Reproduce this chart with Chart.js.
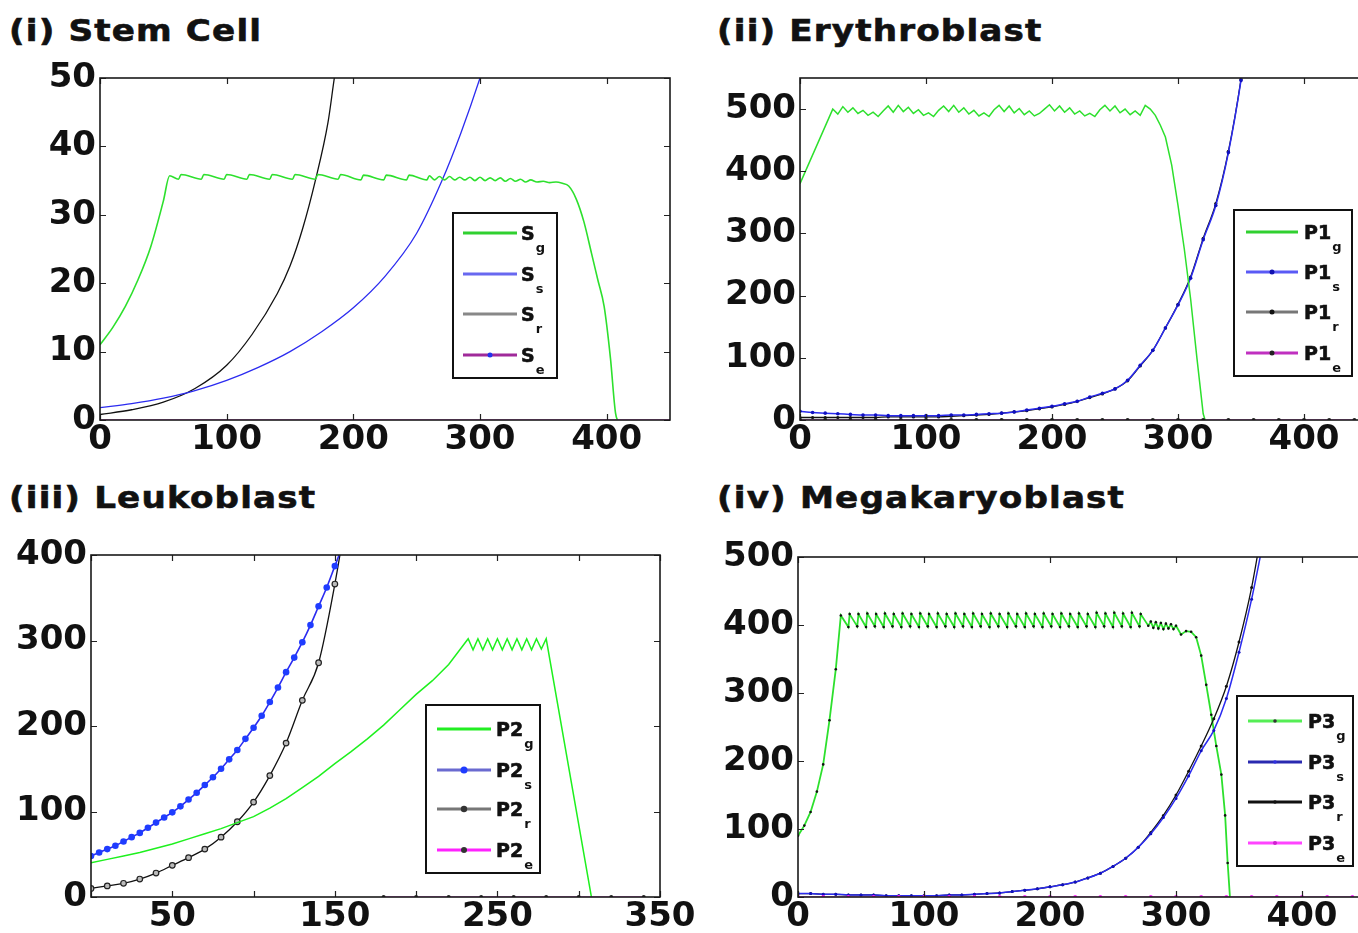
<!DOCTYPE html>
<html><head><meta charset="utf-8">
<script src="https://cdn.jsdelivr.net/npm/chart.js@4.4.0/dist/chart.umd.min.js"></script>
<style>
html,body{margin:0;padding:0;background:#fff;overflow:hidden;width:1358px;height:933px;position:relative;}
.title{position:absolute;font-family:"DejaVu Sans";font-weight:bold;font-size:30px;letter-spacing:1px;color:#111;white-space:nowrap;line-height:1;transform:scaleX(1.14);transform-origin:0 0;-webkit-text-stroke:0.6px #111;}
canvas{position:absolute;}
</style></head><body>
<div class="title" style="left:9px;top:16px">(i) Stem Cell</div>
<div class="title" style="left:717px;top:16px">(ii) Erythroblast</div>
<div class="title" style="left:9px;top:483px">(iii) Leukoblast</div>
<div class="title" style="left:717px;top:483px">(iv) Megakaryoblast</div>
<canvas id="c1"></canvas><canvas id="c2"></canvas><canvas id="c3"></canvas><canvas id="c4"></canvas>
<script>
// ---------- Panel (i) Stem Cell ----------
const xTicks1 = [0,100,200,300,400];
const yTicks1 = [0,10,20,30,40,50];
const sgX = [0,10,20,30,40,50,55,62,64,80,82,98,100,116,118,134,136,152,154,170,172,188,190,206,208,224,226,242,244,258,260,264,268,272,276,280,284,288,292,296,300,304,308,312,316,320,324,328,332,336,340,345,350,355,360,365,370,376,382,388,393,398,403,407,410];
const sgY = [11,13.5,16.6,20.5,25.3,32,35.7,35.2,35.9,35.2,35.9,35.2,35.9,35.2,35.9,35.2,35.9,35.2,35.9,35.2,35.9,35.2,35.9,35.1,35.8,35.1,35.8,35.1,35.8,35.1,35.7,35.1,35.6,35.1,35.6,35.1,35.5,35.1,35.5,35.0,35.5,35.0,35.4,35.0,35.4,34.9,35.3,34.9,35.2,34.8,35.1,34.8,34.9,34.7,34.8,34.6,34.2,32.3,29,24.4,20.5,16.6,9,1,-0.5];
const ssX = [0,25,50,75,100,125,150,175,200,225,250,270,285,300,305];
const ssY = [1.8,2.4,3.2,4.3,5.8,7.7,10,12.9,16.4,21,27.3,35,42,50,53];
const srX = [0,25,50,75,100,120,140,150,160,170,180,185,190];
const srY = [0.8,1.5,2.6,4.6,8,12.5,18.5,22.5,28,35,43.5,50,56];
const seX = [0,450];
const seY = [0,0];
const legMain1 = ['S','S','S','S'];
const legSub1 = ['g','s','r','e'];

// ---------- Panel (ii) Erythroblast ----------
const xTicks2 = [0,100,200,300,400];
const yTicks2 = [0,100,200,300,400,500];
const p1gX = [0,26,30,34,38,42,46,50,54,58,62,66,70,74,78,82,86,90,94,98,102,106,110,114,118,122,126,130,134,138,142,146,150,154,158,162,166,170,174,178,182,186,190,194,198,202,206,210,214,218,222,226,230,234,238,242,246,250,254,258,262,266,270,274,278,282,286,290,295,300,305,310,315,320,323];
const p1gY = [380,500,492,504,495,502,493,498,490,495,488,497,505,495,506,496,503,493,499,490,494,488,498,505,496,506,495,502,492,498,489,494,488,499,506,496,505,494,501,491,497,489,493,500,507,497,505,495,502,492,497,489,493,488,499,506,497,505,494,500,491,497,490,506,500,490,474,455,410,345,275,195,100,10,-10];
const p1sX = [0,10,20,30,40,50,60,70,80,90,100,110,120,130,140,150,160,170,180,190,200,210,220,230,240,250,260,270,280,290,300,310,320,330,340,350,355];
const p1sY = [14,12,11,10,9,8,8,7,7,7,7,7,8,8,9,10,11,13,16,19,22,26,30,37,43,50,64,88,112,148,185,228,290,345,430,546,620];
const p1rX = [0,10,20,30,40,50,60,70,80,90,100,110,120,130,140,150,160,170,180,190,200,210,220,230,240,250,260,270,280,290,300,310,320,330,340,350,355];
const p1rY = [4,4,4,4,4,4,4,5,5,5,5,5,6,7,8,9,11,13,15,18,21,25,30,36,42,50,63,87,112,148,186,230,292,348,432,548,625];
const p1eX = [0,20,40,60,80,100,120,140,160,180,200,220,240,260,280,300,320,340,360,380,400,420,440];
const p1eY = [0,0,0,0,0,0,0,0,0,0,0,0,0,0,0,0,0,0,0,0,0,0,0];
const legMain2 = ['P1','P1','P1','P1'];
const legSub2 = ['g','s','r','e'];

// ---------- Panel (iii) Leukoblast ----------
const xTicks3 = [0,50,100,150,200,250,300,350];
const xLabels3 = [50,150,250,350];
const yTicks3 = [0,100,200,300,400];
const p2gX = [0,10,20,30,40,50,60,70,80,90,100,110,120,130,140,150,160,170,180,190,200,210,220,232,235,238,241,244,247,250,253,256,259,262,265,268,271,274,277,280,308];
const p2gY = [40,44,48,52,57,62,68,74,80,87,94,104,115,128,141,156,170,185,201,219,237,253,272,302,289,302,289,302,289,302,289,302,289,302,289,302,289,302,290,302,-2];
const p2sX = [0,5,10,15,20,25,30,35,40,45,50,55,60,65,70,75,80,85,90,95,100,105,110,115,120,125,130,135,140,145,150,155];
const p2sY = [48,52,56,60,65,70,75,81,87,93,99,106,114,122,131,140,150,161,172,185,198,212,228,245,263,280,298,318,340,362,387,412];
const p2rX = [0,10,20,30,40,50,60,70,80,90,100,110,120,130,140,150,160];
const p2rY = [10,13,16,21,28,37,46,56,70,88,111,142,180,230,274,366,480];
const p2eX = [180,200,220,240,260,280,300,320,340];
const p2eY = [0,0,0,0,0,0,0,0,0];
const legMain3 = ['P2','P2','P2','P2'];
const legSub3 = ['g','s','r','e'];

// ---------- Panel (iv) Megakaryoblast ----------
const xTicks4 = [0,100,200,300,400];
const yTicks4 = [0,100,200,300,400,500];
const p3gX = [0,5,10,15,20,25,30,34,40,41,47,48,54,55,61,62,68,69,75,76,82,83,89,90,96,97,103,104,110,111,117,118,124,125,131,132,138,139,145,146,152,153,159,160,166,167,173,174,180,181,187,188,194,195,201,202,208,209,215,216,222,223,229,230,236,237,243,244,250,251,257,258,264,265,271,272,278,280,282,284,286,288,290,292,294,296,298,300,304,308,312,316,320,324,328,332,336,339,341,343];
const p3gY = [90,105,125,155,195,260,335,414,397,416,398,416,397,417,398,416,397,417,398,416,397,417,398,416,397,417,398,416,397,417,398,416,397,417,398,416,397,417,398,416,397,417,398,416,397,417,398,416,397,417,398,416,397,417,398,416,397,417,398,416,397,417,398,416,397,418,398,417,397,418,398,417,397,418,398,416,399,405,396,404,395,403,394,402,395,401,394,399,386,391,390,382,355,312,268,222,180,120,50,-5];
const p3sX = [0,10,20,30,40,50,60,70,80,90,100,110,120,130,140,150,160,170,180,190,200,210,220,230,240,250,260,270,280,290,300,310,320,330,340,350,360,370];
const p3sY = [5,5,4,4,3,3,3,2,2,2,2,2,3,3,4,5,6,8,10,12,15,18,22,28,35,45,57,73,93,117,145,178,215,245,292,360,438,530];
const p3rX = [0,10,20,30,40,50,60,70,80,90,100,110,120,130,140,150,160,170,180,190,200,210,220,230,240,250,260,270,280,290,300,310,320,330,340,350,360,370];
const p3rY = [5,5,4,4,3,3,3,2,2,2,2,2,3,3,4,5,6,8,10,12,15,18,22,28,35,45,57,73,95,120,150,185,222,262,310,375,455,560];
const p3eX = [0,20,40,60,80,100,120,140,160,180,200,220,240,260,280,300,320,340,360,380,400,420,440];
const p3eY = [0,0,0,0,0,0,0,0,0,0,0,0,0,0,0,0,0,0,0,0,0,0,0];
const legMain4 = ['P3','P3','P3','P3'];
const legSub4 = ['g','s','r','e'];

// ---------- helpers ----------
const pts = (xs, ys) => xs.map((x, i) => ({x: x, y: ys[i]}));
const FONT = 'DejaVu Sans';

const framePlugin = {
  id: 'frame',
  afterDatasetsDraw(chart) {
    const ctx = chart.ctx, a = chart.chartArea, xs = chart.scales.x, ys = chart.scales.y;
    ctx.save();
    ctx.strokeStyle = '#222';
    ctx.lineWidth = 1.2;
    const L = 6;
    xs.ticks.forEach(t => {
      const p = Math.round(xs.getPixelForValue(t.value)) + 0.5;
      ctx.beginPath();
      ctx.moveTo(p, a.bottom); ctx.lineTo(p, a.bottom - L);
      ctx.moveTo(p, a.top); ctx.lineTo(p, a.top + L);
      ctx.stroke();
    });
    ys.ticks.forEach(t => {
      const p = Math.round(ys.getPixelForValue(t.value)) + 0.5;
      ctx.beginPath();
      ctx.moveTo(a.left, p); ctx.lineTo(a.left + L, p);
      ctx.moveTo(a.right, p); ctx.lineTo(a.right - L, p);
      ctx.stroke();
    });
    ctx.lineWidth = 1.6;
    ctx.strokeStyle = '#1a1a1a';
    ctx.strokeRect(a.left, a.top, a.right - a.left, a.bottom - a.top);
    ctx.restore();
  }
};

const legendPlugin = {
  id: 'boxLegend',
  afterDraw(chart, args, o) {
    if (!o || !o.items) return;
    const ctx = chart.ctx;
    ctx.save();
    ctx.fillStyle = '#fff';
    ctx.fillRect(o.x, o.y, o.w, o.h);
    ctx.strokeStyle = '#111';
    ctx.lineWidth = 2;
    ctx.strokeRect(o.x, o.y, o.w, o.h);
    o.items.forEach((it, i) => {
      const y = o.y + o.rows[i];
      ctx.strokeStyle = it.color;
      ctx.lineWidth = 3;
      ctx.beginPath();
      ctx.moveTo(o.x + o.l0, y); ctx.lineTo(o.x + o.l1, y);
      ctx.stroke();
      if (it.marker) {
        ctx.fillStyle = it.marker;
        ctx.beginPath();
        ctx.arc(o.x + (o.l0 + o.l1) / 2, y, it.mr || 2.5, 0, Math.PI * 2);
        ctx.fill();
      }
      ctx.fillStyle = '#111';
      ctx.strokeStyle = '#111';
      ctx.lineWidth = 0.6;
      ctx.font = 'bold ' + o.fs + 'px "' + FONT + '"';
      ctx.textBaseline = 'alphabetic';
      ctx.fillText(it.main, o.x + o.tx, y + 7);
      ctx.strokeText(it.main, o.x + o.tx, y + 7);
      const w = ctx.measureText(it.main).width;
      ctx.font = 'bold 13px "' + FONT + '"';
      ctx.fillText(it.sub, o.x + o.tx + w + 1, y + 19);
    });
    ctx.restore();
  }
};

function makeChart(id, box, xr, xTicks, xLabels, yr, yTicks, datasets, legend) {
  const cl = box.cl, ct = box.T - 25;
  const cw = box.R + 40 - cl, ch = box.ch !== undefined ? box.ch : (box.B + 50 - ct);
  const yW = box.L - cl, xH = ch - (box.B - ct);
  const cv = document.getElementById(id);
  cv.width = cw; cv.height = ch;
  cv.style.left = cl + 'px'; cv.style.top = ct + 'px';
  cv.style.width = cw + 'px'; cv.style.height = ch + 'px';
  if (legend) { legend.x -= cl; legend.y -= ct; }
  const tickFont = {family: FONT, weight: 'bold', size: 34};
  return new Chart(cv, {
    type: 'scatter',
    data: {datasets: datasets},
    options: {
      responsive: false, animation: false, devicePixelRatio: 1,
      layout: {padding: {top: 25, right: 40, left: 0, bottom: 0}},
      plugins: {legend: {display: false}, tooltip: {enabled: false}, boxLegend: legend},
      scales: {
        x: {
          type: 'linear', min: xr[0], max: xr[1],
          afterBuildTicks: s => { s.ticks = xTicks.map(v => ({value: v})); },
          afterFit: s => { s.height = xH; },
          grid: {display: false, drawTicks: false}, border: {display: false},
          ticks: {font: tickFont, color: '#111', padding: 0, maxRotation: 0, autoSkip: false,
            callback: v => xLabels.includes(v) ? String(v) : ''}
        },
        y: {
          type: 'linear', min: yr[0], max: yr[1],
          afterBuildTicks: s => { s.ticks = yTicks.map(v => ({value: v})); },
          afterFit: s => { s.width = yW; },
          grid: {display: false, drawTicks: false}, border: {display: false},
          ticks: {font: tickFont, color: '#111', padding: 4, autoSkip: false, callback: v => String(v)}
        }
      }
    },
    plugins: [framePlugin, legendPlugin]
  });
}

function line(label, xs, ys, color, w, extra) {
  return Object.assign({label: label, data: pts(xs, ys), showLine: true, borderColor: color,
    backgroundColor: color, borderWidth: w, pointRadius: 0, cubicInterpolationMode: 'monotone'}, extra || {});
}

const GREEN = '#2de02d', BLUE = '#2b2bf0', BLACK = '#111', MAG = '#ff22ff';

// Panel (i)
makeChart('c1', {cl: 0, L: 100, T: 78, R: 670, B: 420}, [0, 450], xTicks1, xTicks1, [0, 50], yTicks1, [
  line('Se', seX, seY, MAG, 1.2),
  line('Sg', sgX, sgY, GREEN, 1.6),
  line('Ss', ssX, ssY, BLUE, 1.3),
  line('Sr', srX, srY, BLACK, 1.3)
], {x: 453, y: 213, w: 104, h: 165, rows: [20, 61, 101, 142], l0: 10, l1: 64, tx: 68, fs: 19,
  items: [
    {main: legMain1[0], sub: legSub1[0], color: '#30d030'},
    {main: legMain1[1], sub: legSub1[1], color: '#6868f0'},
    {main: legMain1[2], sub: legSub1[2], color: '#888'},
    {main: legMain1[3], sub: legSub1[3], color: '#a02a9a', marker: '#2233ee', mr: 2.5}
  ]});

// Panel (ii)
makeChart('c2', {cl: 700, L: 800, T: 78, R: 1367, B: 420}, [0, 450], xTicks2, xTicks2, [0, 550], yTicks2, [
  line('P1e', p1eX, p1eY, MAG, 1.2, {pointRadius: 2, pointBackgroundColor: '#222', pointBorderWidth: 0}),
  line('P1g', p1gX, p1gY, GREEN, 1.5, {cubicInterpolationMode: 'default', tension: 0}),
  line('P1s', p1sX, p1sY, BLUE, 1.5, {pointRadius: 1.8, pointBackgroundColor: '#1010c0', pointBorderWidth: 0}),
  line('P1r', p1rX, p1rY, BLACK, 1.3, {pointRadius: 1.6, pointBackgroundColor: '#111', pointBorderWidth: 0})
], {x: 1234, y: 210, w: 118, h: 166, rows: [22, 62, 102, 143], l0: 12, l1: 64, tx: 70, fs: 19,
  items: [
    {main: legMain2[0], sub: legSub2[0], color: '#30d030'},
    {main: legMain2[1], sub: legSub2[1], color: '#5a5af5', marker: '#1010b0'},
    {main: legMain2[2], sub: legSub2[2], color: '#777', marker: '#111'},
    {main: legMain2[3], sub: legSub2[3], color: '#c030c0', marker: '#222'}
  ]});

// Panel (iii)
makeChart('c3', {cl: 0, L: 91, T: 555, R: 660, B: 897, ch: 933 - 530}, [0, 350], xTicks3, xLabels3, [0, 400], yTicks3, [
  line('P2e', p2eX, p2eY, MAG, 1.2, {pointRadius: 2, pointBackgroundColor: '#222', pointBorderWidth: 0}),
  line('P2g', p2gX, p2gY, '#1ef01e', 1.5, {cubicInterpolationMode: 'default', tension: 0}),
  line('P2s', p2sX, p2sY, BLUE, 1.6, {pointRadius: 3.3, pointBackgroundColor: '#1f3cff', pointBorderColor: '#1f3cff', pointBorderWidth: 0}),
  line('P2r', p2rX, p2rY, BLACK, 1.3, {pointRadius: 2.8, pointBackgroundColor: '#bbb', pointBorderColor: '#222', pointBorderWidth: 1.2})
], {x: 426, y: 705, w: 114, h: 168, rows: [24, 65, 104, 145], l0: 11, l1: 65, tx: 70, fs: 19,
  items: [
    {main: legMain3[0], sub: legSub3[0], color: '#22ee22'},
    {main: legMain3[1], sub: legSub3[1], color: '#6a6ad0', marker: '#1f3cff', mr: 3.5},
    {main: legMain3[2], sub: legSub3[2], color: '#777', marker: '#333', mr: 3.2},
    {main: legMain3[3], sub: legSub3[3], color: '#ff22ff', marker: '#333', mr: 3}
  ]});

// Panel (iv)
makeChart('c4', {cl: 700, L: 798, T: 557, R: 1365, B: 897, ch: 933 - 532}, [0, 450], xTicks4, xTicks4, [0, 500], yTicks4, [
  line('P3e', p3eX, p3eY, MAG, 1.2, {pointRadius: 2, pointBackgroundColor: MAG, pointBorderWidth: 0}),
  line('P3s', p3sX, p3sY, BLUE, 1.5, {pointRadius: 1.5, pointBackgroundColor: '#1010c0', pointBorderWidth: 0}),
  line('P3r', p3rX, p3rY, BLACK, 1.3, {pointRadius: 1.5, pointBackgroundColor: '#111', pointBorderWidth: 0}),
  line('P3g', p3gX, p3gY, GREEN, 1.8, {cubicInterpolationMode: 'default', tension: 0, pointRadius: 1.3, pointBackgroundColor: '#111', pointBorderWidth: 0})
], {x: 1237, y: 696, w: 116, h: 170, rows: [25, 66, 106, 147], l0: 11, l1: 65, tx: 71, fs: 19,
  items: [
    {main: legMain4[0], sub: legSub4[0], color: '#55ee55', marker: '#333', mr: 1.8},
    {main: legMain4[1], sub: legSub4[1], color: '#2a2ab0', marker: '#3030e0', mr: 1.8},
    {main: legMain4[2], sub: legSub4[2], color: '#111', marker: '#111', mr: 1.8},
    {main: legMain4[3], sub: legSub4[3], color: '#ff44ff', marker: '#cc22cc', mr: 2}
  ]});
</script>
</body></html>
